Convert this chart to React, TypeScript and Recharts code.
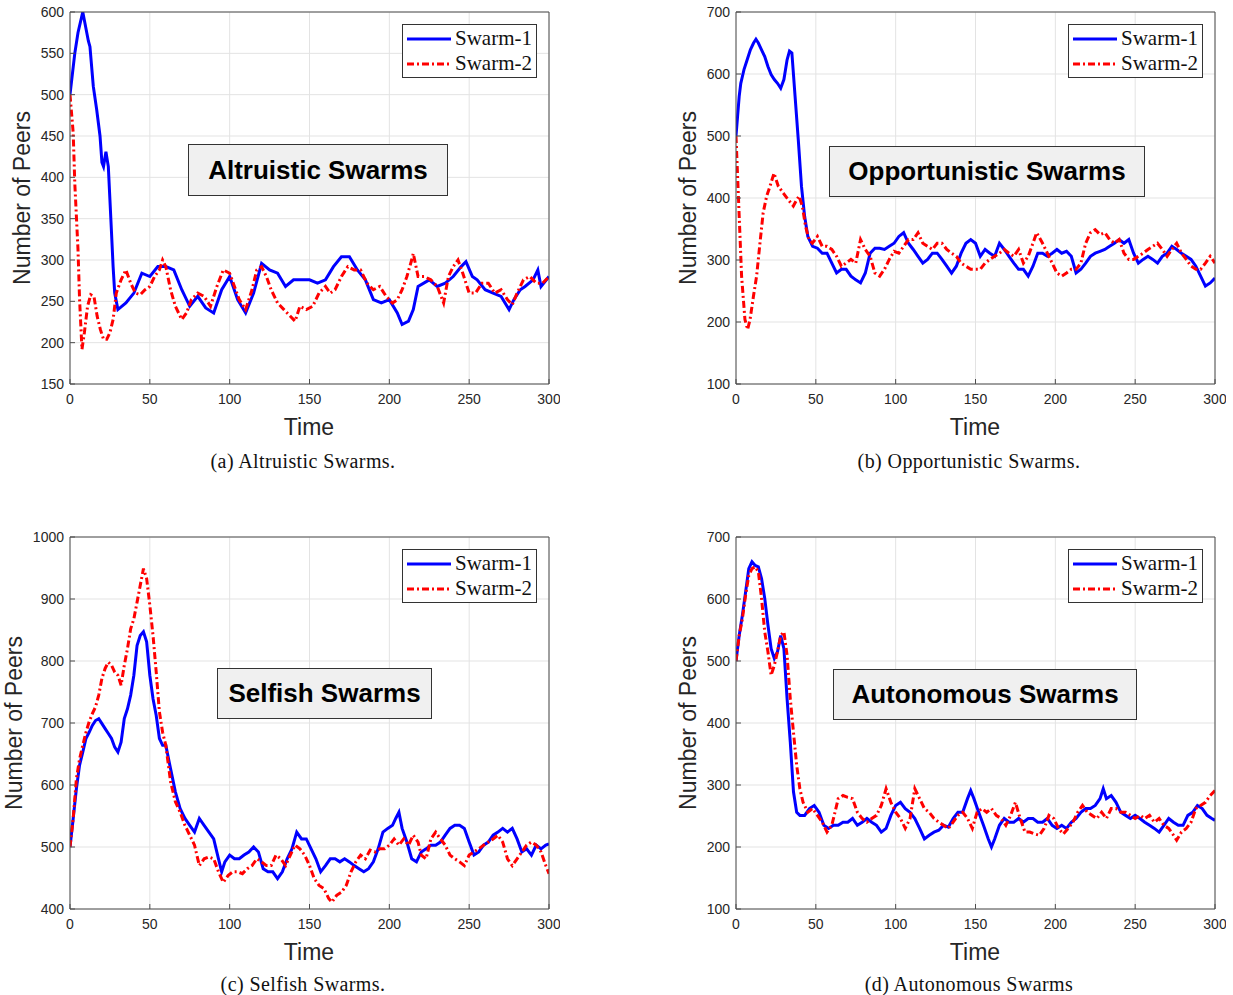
import React from "react";
import { LineChart, Line, XAxis, YAxis, CartesianGrid, Legend } from "recharts";

type Pt = [number, number];

const timeTicks = [0, 50, 100, 150, 200, 250, 300];
const altruisticTicks = [150, 200, 250, 300, 350, 400, 450, 500, 550, 600];
const opportunisticTicks = [100, 200, 300, 400, 500, 600, 700];
const selfishTicks = [400, 500, 600, 700, 800, 900, 1000];
const autonomousTicks = [100, 200, 300, 400, 500, 600, 700];

const seriesNames = ["Swarm-1", "Swarm-2"];

// [time, peers]
const altruisticSwarm1: Pt[] = [
  [0, 500], [3, 550], [5, 575], [8, 600], [9, 590], [11.5, 565], [12.5, 558], [14.6, 510], [16.7, 482],
  [18.8, 450], [20, 418], [21, 413], [22.5, 431], [24, 413], [25, 373], [26, 333], [27, 292], [28, 260],
  [30, 240], [35, 248], [40, 260], [45, 284], [50, 280], [55, 292], [60, 292], [65, 288], [70, 264],
  [75, 244], [80, 256], [85, 242], [90, 236], [95, 264], [100, 280], [105, 252], [110, 236], [115, 260],
  [120, 296], [125, 288], [130, 284], [135, 268], [140, 276], [145, 276], [150, 276], [155, 272],
  [160, 276], [165, 292], [170, 304], [175, 304], [180, 288], [185, 276], [190, 252], [195, 248],
  [200, 252], [205, 236], [208, 222], [212, 226], [215, 240], [218, 268], [225, 276], [230, 268],
  [235, 272], [240, 280], [245, 292], [248, 298], [252, 280], [255, 276], [260, 264], [265, 260],
  [270, 256], [275, 240], [278, 252], [282, 264], [285, 268], [290, 276], [293, 288], [295, 268], [300, 280],
];
const altruisticSwarm2: Pt[] = [
  [0, 500], [2, 454], [3, 393], [5, 313], [6, 252], [7, 212], [7.5, 192], [9, 212], [11, 244], [13, 258],
  [15, 256], [17, 232], [19, 216], [21, 204], [23, 204], [25, 212], [27, 228], [29, 260], [32, 276],
  [35, 288], [38, 272], [41, 260], [44, 258], [47, 264], [50, 268], [53, 280], [56, 288], [58, 300],
  [60, 292], [63, 264], [66, 244], [70, 228], [73, 236], [76, 252], [80, 260], [84, 256], [88, 244],
  [92, 268], [96, 288], [100, 284], [103, 268], [106, 252], [110, 240], [114, 264], [117, 288], [120, 292],
  [123, 280], [126, 264], [130, 248], [134, 240], [138, 232], [141, 226], [144, 244], [148, 240],
  [152, 244], [156, 260], [160, 268], [163, 260], [166, 264], [170, 280], [174, 292], [178, 288],
  [182, 288], [186, 272], [190, 264], [194, 268], [198, 256], [202, 248], [205, 252], [208, 264],
  [211, 280], [214, 300], [215, 308], [218, 280], [222, 280], [226, 276], [230, 268], [234, 248],
  [237, 280], [240, 292], [243, 300], [246, 284], [250, 260], [254, 260], [258, 272], [262, 272],
  [266, 260], [270, 264], [274, 252], [277, 246], [280, 260], [284, 276], [288, 280], [292, 272],
  [296, 272], [300, 280],
];

const opportunisticSwarm1: Pt[] = [
  [0, 500], [1, 532], [2, 564], [3, 585], [4, 596], [5, 607], [7, 623], [9, 639], [11, 650], [12.5, 656],
  [14, 650], [16, 639], [18, 628], [20, 612], [22, 599], [24, 591], [26, 585], [28, 577], [30, 591],
  [32, 623], [33.5, 637], [35, 634], [37, 564], [39, 494], [41, 419], [43, 370], [45, 338], [48, 322],
  [51, 319], [54, 311], [57, 311], [60, 295], [63, 279], [66, 285], [69, 285], [72, 274], [75, 268],
  [78, 263], [81, 279], [84, 311], [87, 319], [90, 319], [93, 317], [96, 322], [99, 327], [102, 338],
  [105, 344], [108, 327], [111, 317], [114, 306], [117, 295], [120, 301], [123, 311], [126, 311],
  [129, 301], [132, 290], [135, 279], [138, 290], [141, 311], [144, 327], [147, 333], [150, 327],
  [153, 306], [156, 317], [159, 311], [162, 306], [165, 327], [168, 317], [171, 306], [174, 295],
  [177, 285], [180, 285], [183, 274], [186, 290], [189, 311], [192, 311], [195, 306], [198, 311],
  [201, 317], [204, 311], [207, 314], [210, 306], [213, 279], [216, 285], [219, 295], [222, 306],
  [225, 311], [228, 314], [231, 317], [234, 322], [237, 327], [240, 333], [243, 327], [246, 333],
  [249, 311], [252, 295], [255, 301], [258, 306], [261, 301], [264, 295], [267, 306], [270, 311],
  [273, 322], [276, 317], [279, 311], [282, 306], [285, 301], [288, 290], [291, 274], [294, 258],
  [297, 263], [300, 271],
];
const opportunisticSwarm2: Pt[] = [
  [0, 500], [1.5, 403], [3.5, 274], [5.6, 204], [7.3, 188], [8.8, 204], [10.9, 241], [12.9, 274],
  [15, 327], [17, 376], [19.2, 403], [21.3, 419], [23.8, 440], [26.5, 419], [29.6, 408], [32.8, 397],
  [35.9, 387], [38, 397], [39.5, 403], [41.5, 387], [43.6, 354], [45.7, 333], [47.8, 327], [51, 338],
  [54, 322], [57, 322], [60, 317], [63, 306], [66, 290], [69, 295], [72, 301], [75, 295], [78, 333],
  [81, 317], [84, 306], [87, 279], [90, 274], [93, 285], [96, 301], [99, 314], [102, 311], [105, 322],
  [108, 333], [111, 333], [114, 344], [117, 327], [120, 322], [123, 317], [126, 327], [129, 327],
  [132, 317], [135, 311], [138, 306], [141, 295], [144, 290], [147, 285], [150, 285], [153, 285],
  [156, 295], [159, 301], [162, 306], [165, 311], [168, 317], [171, 311], [174, 306], [177, 317],
  [180, 295], [183, 306], [186, 327], [188.3, 344], [192, 327], [195, 311], [198, 295], [201, 279],
  [204, 274], [207, 279], [210, 285], [213, 285], [216, 295], [219, 327], [222, 344], [225, 349],
  [228, 341], [231, 344], [234, 333], [237, 327], [240, 333], [243, 311], [246, 301], [249, 301],
  [252, 306], [255, 311], [258, 317], [261, 322], [264, 327], [267, 317], [270, 306], [273, 317],
  [276, 327], [279, 311], [282, 301], [285, 290], [288, 285], [291, 285], [294, 295], [297, 306], [300, 295],
];

const selfishSwarm1: Pt[] = [
  [0, 500], [2, 546], [4, 594], [6, 632], [8, 653], [10, 675], [12, 685], [14, 696], [16, 704], [18, 707],
  [20, 699], [22, 691], [24, 683], [26, 675], [28, 661], [30, 653], [32, 669], [34, 707], [36, 723],
  [38, 745], [40, 777], [42, 825], [44, 841], [46, 847], [48, 831], [50, 777], [52, 739], [54, 712],
  [56, 675], [58, 664], [60, 664], [63, 626], [66, 589], [69, 562], [72, 546], [75, 535], [78, 524],
  [81, 546], [84, 535], [87, 524], [90, 513], [93, 481], [95, 460], [97, 476], [100, 487], [103, 481],
  [106, 481], [109, 487], [112, 492], [115, 500], [118, 492], [121, 465], [124, 460], [127, 460],
  [130, 449], [133, 460], [136, 481], [139, 497], [142, 524], [145, 513], [148, 513], [151, 497],
  [154, 481], [157, 460], [160, 470], [163, 481], [166, 481], [169, 476], [172, 481], [175, 476],
  [178, 470], [181, 465], [184, 460], [187, 465], [190, 476], [193, 497], [196, 524], [199, 530],
  [202, 535], [204, 546], [206, 556], [208, 530], [211, 508], [214, 481], [217, 476], [220, 492],
  [223, 497], [226, 503], [229, 503], [232, 508], [235, 519], [238, 530], [241, 535], [244, 535],
  [247, 530], [250, 508], [253, 487], [256, 492], [259, 503], [262, 508], [265, 519], [268, 524],
  [271, 530], [274, 524], [277, 530], [280, 513], [283, 492], [286, 497], [289, 487], [292, 503],
  [295, 497], [298, 503], [300, 505],
];
const selfishSwarm2: Pt[] = [
  [0, 500], [2, 546], [4, 610], [6, 642], [8, 664], [10, 685], [12, 702], [14, 715], [16, 726], [18, 745],
  [20, 772], [22, 788], [24, 798], [26, 793], [28, 782], [30, 777], [32, 761], [34, 793], [36, 820],
  [38, 852], [40, 868], [42, 895], [44, 922], [46, 949], [48, 933], [50, 890], [52, 841], [54, 782],
  [56, 718], [58, 685], [60, 664], [63, 605], [66, 573], [69, 556], [72, 535], [75, 519], [78, 503],
  [81, 470], [84, 481], [87, 484], [90, 481], [93, 460], [96, 443], [99, 454], [102, 460], [105, 460],
  [108, 457], [111, 465], [114, 470], [117, 481], [120, 476], [123, 470], [126, 470], [129, 487],
  [132, 481], [135, 470], [138, 487], [141, 503], [144, 497], [147, 487], [150, 470], [153, 449],
  [156, 438], [159, 433], [162, 417], [164, 411], [167, 422], [170, 427], [173, 438], [176, 460],
  [179, 476], [182, 487], [185, 481], [188, 495], [191, 492], [194, 497], [197, 497], [200, 503],
  [203, 513], [206, 503], [209, 513], [212, 503], [215, 519], [218, 508], [220, 487], [223, 481],
  [226, 513], [229, 524], [232, 513], [235, 503], [238, 487], [241, 481], [244, 476], [247, 470],
  [250, 487], [253, 492], [256, 497], [259, 503], [262, 508], [265, 513], [268, 519], [271, 508],
  [274, 481], [277, 470], [280, 481], [283, 492], [286, 503], [289, 508], [292, 503], [295, 492],
  [298, 470], [300, 457],
];

const autonomousSwarm1: Pt[] = [
  [0, 500], [2, 541], [4, 574], [6, 611], [8, 649], [10, 660], [12, 654], [14, 652], [16, 633], [18, 601],
  [20, 558], [22, 520], [24, 504], [26, 515], [28, 541], [30, 520], [32, 439], [34, 369], [36, 289],
  [38, 256], [40, 251], [43, 251], [46, 262], [49, 267], [52, 256], [55, 235], [58, 230], [61, 235],
  [64, 235], [67, 240], [70, 240], [73, 246], [76, 235], [79, 240], [82, 246], [85, 240], [88, 235],
  [91, 224], [94, 230], [97, 251], [100, 267], [103, 272], [106, 262], [109, 256], [112, 246], [115, 230],
  [118, 213], [121, 219], [124, 224], [127, 227], [130, 235], [133, 232], [136, 246], [139, 256],
  [142, 256], [145, 278], [147, 291], [149, 278], [152, 256], [155, 235], [158, 213], [160, 200],
  [162, 213], [165, 235], [168, 246], [171, 240], [174, 240], [177, 246], [180, 240], [183, 246],
  [186, 246], [189, 240], [192, 240], [195, 246], [198, 235], [201, 230], [204, 235], [207, 230],
  [210, 240], [213, 246], [216, 256], [219, 262], [222, 262], [225, 267], [228, 278], [230, 294],
  [232, 278], [235, 283], [238, 272], [241, 256], [244, 251], [247, 246], [250, 251], [253, 246],
  [256, 240], [259, 235], [262, 230], [265, 224], [268, 235], [271, 246], [274, 240], [277, 235],
  [280, 235], [283, 251], [286, 256], [289, 267], [292, 262], [295, 251], [298, 246], [300, 243],
];
const autonomousSwarm2: Pt[] = [
  [0, 500], [2, 541], [4, 568], [6, 606], [8, 638], [10, 649], [12, 652], [14, 644], [16, 601], [18, 547],
  [20, 515], [22, 477], [24, 493], [26, 515], [28, 541], [30, 547], [32, 509], [34, 439], [36, 385],
  [38, 332], [40, 294], [42, 272], [45, 256], [48, 262], [51, 251], [54, 240], [57, 224], [60, 235],
  [62, 256], [64, 278], [67, 283], [70, 280], [73, 278], [76, 256], [79, 246], [82, 240], [85, 246],
  [88, 251], [91, 267], [94, 294], [97, 272], [100, 256], [103, 246], [106, 230], [109, 246], [112, 294],
  [115, 278], [118, 262], [121, 256], [124, 246], [127, 240], [130, 235], [133, 230], [136, 240],
  [139, 251], [142, 256], [145, 246], [148, 230], [151, 256], [154, 262], [157, 256], [160, 262],
  [163, 251], [166, 246], [169, 235], [172, 251], [175, 272], [178, 246], [181, 224], [184, 224],
  [187, 221], [190, 219], [193, 230], [196, 251], [199, 246], [202, 230], [205, 221], [208, 230],
  [211, 240], [214, 256], [217, 267], [220, 256], [223, 251], [226, 246], [229, 256], [232, 246],
  [235, 262], [238, 262], [241, 256], [244, 256], [247, 251], [250, 246], [253, 251], [256, 246],
  [259, 251], [262, 240], [265, 246], [268, 235], [271, 230], [274, 219], [276, 211], [279, 224],
  [282, 230], [285, 240], [288, 262], [291, 267], [294, 272], [297, 283], [300, 291],
];

const BLUE = "#0000ff";
const RED = "#ff0000";
const DASH = "7 3 2 3";
const AXIS = "#4d4d4d";
const SANS = "'Liberation Sans', Arial, Helvetica, sans-serif";
const SERIF = "'Liberation Serif', 'Times New Roman', serif";

const toRows = (pts: Pt[]) => pts.map(([t, v]) => ({ t, v }));

const tickStyle = { fill: "#262626", fontSize: 14, fontFamily: SANS };

function LegendBox() {
  return (
    <div
      style={{
        width: 135,
        height: 54,
        boxSizing: "border-box",
        border: "1px solid #333",
        background: "#fff",
        fontFamily: SERIF,
        fontSize: 21,
        color: "#111",
        paddingTop: 1,
      }}
    >
      {seriesNames.map((name, i) => (
        <div key={name} style={{ display: "flex", alignItems: "center", height: 25 }}>
          <svg width={48} height={10} style={{ marginLeft: 4 }}>
            <line
              x1={0}
              x2={44}
              y1={5}
              y2={5}
              stroke={i === 0 ? BLUE : RED}
              strokeWidth={3}
              strokeDasharray={i === 0 ? undefined : DASH}
            />
          </svg>
          <span style={{ lineHeight: "25px" }}>{name}</span>
        </div>
      ))}
    </div>
  );
}

type PanelProps = {
  left: number;
  top: number;
  s1: Pt[];
  s2: Pt[];
  yTicks: number[];
  yLabelX: number;
  title: string;
  box: { x: number; y: number; w: number; h: number };
  caption: string;
  captionY: number;
};

function Panel({ left, top, s1, s2, yTicks, yLabelX, title, box, caption, captionY }: PanelProps) {
  const yDomain = [yTicks[0], yTicks[yTicks.length - 1]];
  return (
    <div style={{ position: "absolute", left, top, width: 560, height: 470 }}>
      <LineChart width={560} height={420} margin={{ top: 11, right: 10, bottom: 6, left: 10 }}>
        <CartesianGrid stroke="#e3e3e3" />
        <XAxis
          dataKey="t"
          type="number"
          domain={[0, 300]}
          ticks={timeTicks}
          interval={0}
          height={30}
          stroke={AXIS}
          tickSize={-5}
          tickMargin={15}
          tick={tickStyle}
          allowDataOverflow
        />
        <XAxis
          xAxisId="top"
          orientation="top"
          dataKey="t"
          type="number"
          domain={[0, 300]}
          ticks={timeTicks}
          interval={0}
          height={1}
          stroke={AXIS}
          tickSize={-5}
          tickFormatter={() => ""}
        />
        <YAxis
          type="number"
          domain={yDomain}
          ticks={yTicks}
          interval={0}
          width={60}
          stroke={AXIS}
          tickSize={-5}
          tickMargin={11}
          tick={tickStyle}
          allowDataOverflow
        />
        <YAxis
          yAxisId="right"
          orientation="right"
          type="number"
          domain={yDomain}
          ticks={yTicks}
          interval={0}
          width={1}
          stroke={AXIS}
          tickSize={-5}
          tickFormatter={() => ""}
        />
        <Line
          data={toRows(s1)}
          dataKey="v"
          name={seriesNames[0]}
          type="linear"
          stroke={BLUE}
          strokeWidth={3}
          dot={false}
          isAnimationActive={false}
        />
        <Line
          data={toRows(s2)}
          dataKey="v"
          name={seriesNames[1]}
          type="linear"
          stroke={RED}
          strokeWidth={3}
          strokeDasharray={DASH}
          dot={false}
          isAnimationActive={false}
        />
        <Legend
          layout="horizontal"
          verticalAlign="middle"
          align="center"
          wrapperStyle={{ left: 402, top: 24, width: 135, height: 54 }}
          content={() => <LegendBox />}
        />
      </LineChart>
      <div
        style={{
          position: "absolute",
          left: box.x,
          top: box.y,
          width: box.w,
          height: box.h,
          boxSizing: "border-box",
          border: "1px solid #333",
          background: "#f0f0f0",
          display: "flex",
          alignItems: "center",
          justifyContent: "center",
          fontFamily: SANS,
          fontWeight: "bold",
          fontSize: 26,
          color: "#000",
        }}
      >
        {title}
      </div>
      <div
        style={{
          position: "absolute",
          left: yLabelX,
          top: 198,
          transform: "translate(-50%, -50%) rotate(-90deg)",
          whiteSpace: "nowrap",
          fontFamily: SANS,
          fontSize: 23,
          color: "#262626",
        }}
      >
        Number of Peers
      </div>
      <div
        style={{
          position: "absolute",
          left: 309,
          top: 427,
          transform: "translate(-50%, -50%)",
          fontFamily: SANS,
          fontSize: 23,
          color: "#262626",
        }}
      >
        Time
      </div>
      <div
        style={{
          position: "absolute",
          left: 303,
          top: captionY,
          transform: "translate(-50%, -50%)",
          whiteSpace: "nowrap",
          fontFamily: SERIF,
          fontSize: 20,
          lineHeight: "20px",
          letterSpacing: 0.4,
          color: "#111",
        }}
      >
        {caption}
      </div>
    </div>
  );
}

export default function App() {
  return (
    <div style={{ position: "relative", width: 1233, height: 995, background: "#fff", overflow: "hidden" }}>
      <style>{"body{margin:0}"}</style>
      <Panel
        left={0}
        top={0}
        s1={altruisticSwarm1}
        s2={altruisticSwarm2}
        yTicks={altruisticTicks}
        yLabelX={22}
        title="Altruistic Swarms"
        box={{ x: 188, y: 144, w: 260, h: 52 }}
        caption="(a) Altruistic Swarms."
        captionY={461}
      />
      <Panel
        left={666}
        top={0}
        s1={opportunisticSwarm1}
        s2={opportunisticSwarm2}
        yTicks={opportunisticTicks}
        yLabelX={22}
        title="Opportunistic Swarms"
        box={{ x: 163, y: 146, w: 316, h: 51 }}
        caption="(b) Opportunistic Swarms."
        captionY={461}
      />
      <Panel
        left={0}
        top={525}
        s1={selfishSwarm1}
        s2={selfishSwarm2}
        yTicks={selfishTicks}
        yLabelX={14}
        title="Selfish Swarms"
        box={{ x: 217, y: 143, w: 215, h: 51 }}
        caption="(c) Selfish Swarms."
        captionY={459}
      />
      <Panel
        left={666}
        top={525}
        s1={autonomousSwarm1}
        s2={autonomousSwarm2}
        yTicks={autonomousTicks}
        yLabelX={22}
        title="Autonomous Swarms"
        box={{ x: 167, y: 144, w: 304, h: 51 }}
        caption="(d) Autonomous Swarms"
        captionY={459}
      />
    </div>
  );
}
